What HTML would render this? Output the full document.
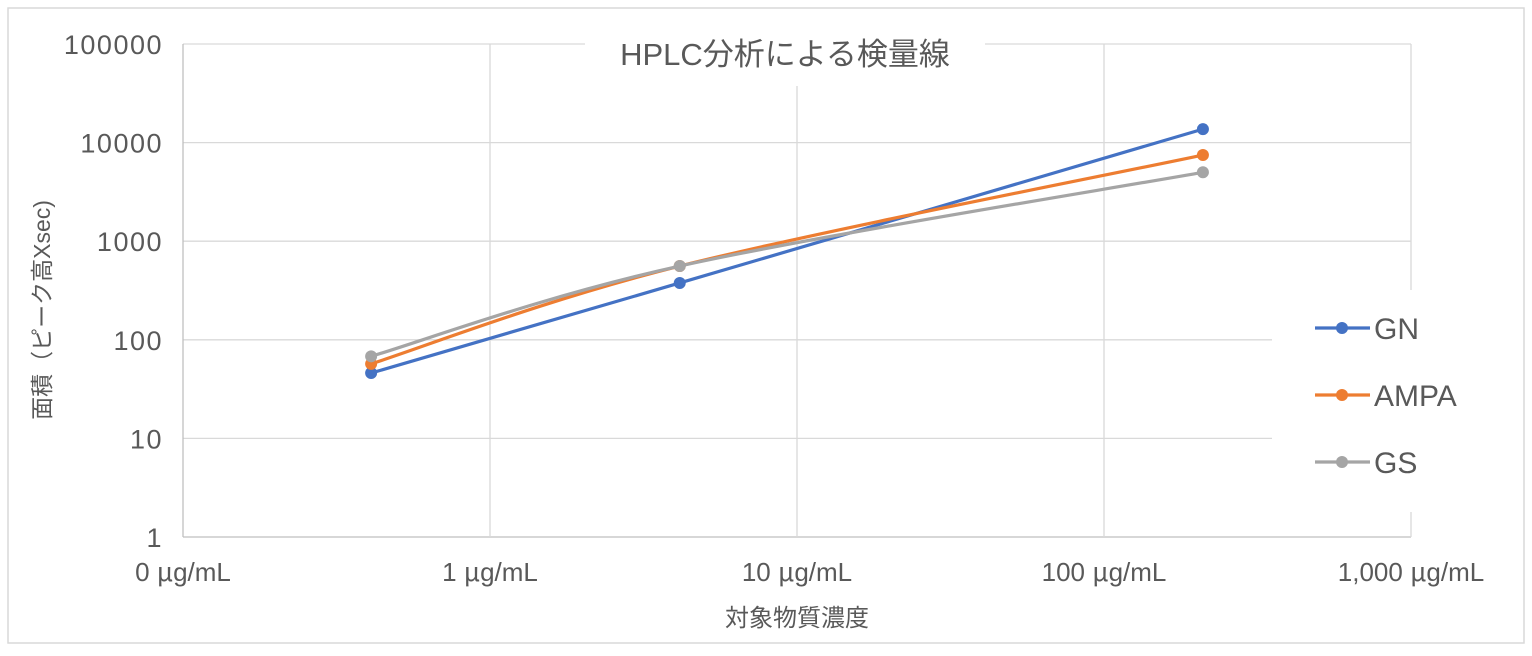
<!DOCTYPE html>
<html><head><meta charset="utf-8"><style>
body{margin:0;background:#fff;}
svg text{font-family:"Liberation Sans","Noto Sans CJK JP",sans-serif;fill:#595959;}
.mu{font-family:"Noto Sans CJK JP",sans-serif;}
</style></head><body>
<svg width="1532" height="651" xmlns="http://www.w3.org/2000/svg">
<rect x="8" y="8" width="1516" height="635" fill="#fff" stroke="#d9d9d9" stroke-width="1.5"/>
<g id="grid"></g>
<rect x="585" y="28" width="400" height="58" fill="#fff"/>
<rect x="1272" y="290" width="250" height="222" fill="#fff"/>
<text x="785" y="65" font-size="31" text-anchor="middle">HPLC分析による検量線</text>
<g id="axes"></g>
<g id="series"></g>
<text x="797" y="626" font-size="24" text-anchor="middle">対象物質濃度</text>
<text transform="translate(50,310) rotate(-90)" font-size="23" text-anchor="middle">面積（ピーク高Xsec)</text>
<g id="legend"></g>
</svg>
<script>
const xTicks=[0.1,1,10,100,1000];
const xTickLabels=["0","1","10","100","1,000"];
const yTicks=[1,10,100,1000,10000,100000];
const yTickLabels=["1","10","100","1000","10000","100000"];
const xValues=[0.41,4.15,210];
const gnValues=[46,377,13700];
const ampaValues=[57,560,7480];
const gsValues=[68,560,5000];
const seriesNames=["GN","AMPA","GS"];
const seriesColors=["#4472c4","#ed7d31","#a5a5a5"];
const ns="http://www.w3.org/2000/svg";
const X=v=>183+(Math.log10(v)+1)*307;
const Y=v=>537-Math.log10(v)*98.6;
function mk(tag,attrs,parent){const e=document.createElementNS(ns,tag);for(const k in attrs)e.setAttribute(k,attrs[k]);parent.appendChild(e);return e;}
const grid=document.getElementById('grid'),axes=document.getElementById('axes'),ser=document.getElementById('series'),leg=document.getElementById('legend');
yTicks.forEach((t,i)=>{
 const l=mk('line',{x1:183,x2:1411,y1:Y(t),y2:Y(t),stroke:i==0?'#bfbfbf':'#d9d9d9','stroke-width':1.3},grid);
 
 
 const tx=mk('text',{x:163,y:Y(t)+10,'font-size':27,'letter-spacing':'1.5','text-anchor':'end'},axes);tx.textContent=yTickLabels[i];
 
 
});
xTicks.forEach((t,i)=>{
 const l=mk('line',{x1:X(t),x2:X(t),y1:Y(100000),y2:537,stroke:i==0?'#bfbfbf':'#d9d9d9','stroke-width':1.3},grid);
 
 
 const tx=mk('text',{x:X(t),y:581,'font-size':26,'text-anchor':'middle'},axes);
 tx.innerHTML=xTickLabels[i]+' <tspan class="mu">μ</tspan>g/mL';
 tx.setAttribute('xml:space','preserve');
 
 
});
[gnValues,ampaValues,gsValues].forEach((vals,s)=>{
 const p=xValues.map((x,i)=>[X(x),Y(vals[i])]);
 let d=`M${p[0][0]},${p[0][1]}`;
 for(let i=0;i<p.length-1;i++){
  const p0=p[Math.max(0,i-1)],p1=p[i],p2=p[i+1],p3=p[Math.min(p.length-1,i+2)];
  const c1=[p1[0]+(p2[0]-p0[0])/6,p1[1]+(p2[1]-p0[1])/6],c2=[p2[0]-(p3[0]-p1[0])/6,p2[1]-(p3[1]-p1[1])/6];
  d+=` C${c1[0]},${c1[1]} ${c2[0]},${c2[1]} ${p2[0]},${p2[1]}`;
 }
 const path=mk('path',{d,fill:'none',stroke:seriesColors[s],'stroke-width':3.2},ser);
 
 
 p.forEach(q=>{const c=mk('circle',{cx:q[0],cy:q[1],r:6,fill:seriesColors[s]},ser);
  
  });
 const ly=328+s*67;
 const g=mk('g',{},leg);
 
 
 mk('line',{x1:1315,x2:1370,y1:ly,y2:ly,stroke:seriesColors[s],'stroke-width':3.2},g);
 mk('circle',{cx:1342,cy:ly,r:6,fill:seriesColors[s]},g);
 const t=mk('text',{x:1374,y:ly+11,'font-size':30},g);t.textContent=seriesNames[s];
});
</script>
</body></html>
